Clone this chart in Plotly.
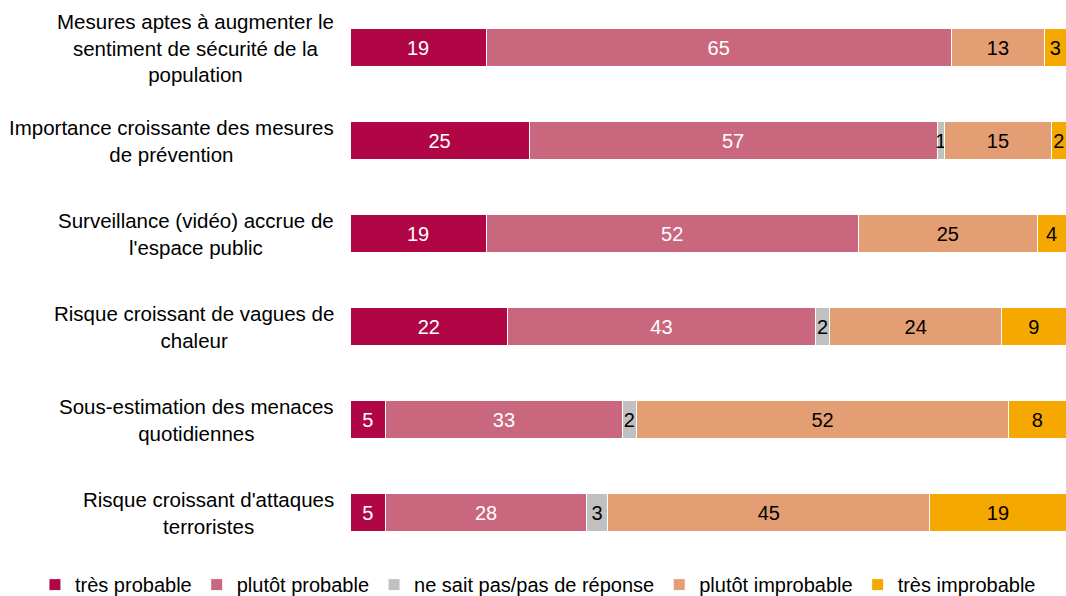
import plotly.graph_objects as go

categories = [
    "Mesures aptes à augmenter le<br>sentiment de sécurité de la<br>population",
    "Importance croissante des mesures<br>de prévention",
    "Surveillance (vidéo) accrue de<br>l'espace public",
    "Risque croissant de vagues de<br>chaleur",
    "Sous-estimation des menaces<br>quotidiennes",
    "Risque croissant d'attaques<br>terroristes",
]
series_names = ["très probable", "plutôt probable", "ne sait pas/pas de réponse",
                "plutôt improbable", "très improbable"]
tres_probable = [19, 25, 19, 22, 5, 5]
plutot_probable = [65, 57, 52, 43, 33, 28]
ne_sait_pas = [0, 1, 0, 2, 2, 3]
plutot_improbable = [13, 15, 25, 24, 52, 45]
tres_improbable = [3, 2, 4, 9, 8, 19]

values = [tres_probable, plutot_probable, ne_sait_pas, plutot_improbable, tres_improbable]
colors = ["#B00646", "#C9677E", "#C0C0C0", "#E39E74", "#F5A800"]
text_colors = ["white", "white", "black", "black", "black"]

ids = list(range(len(categories)))
FONT = "Liberation Sans, Arial, sans-serif"
FS = 20

fig = go.Figure()
for name, vals, col, tcol in zip(series_names, values, colors, text_colors):
    fig.add_trace(go.Bar(
        name=name, y=ids, x=vals, orientation="h",
        marker=dict(color=col, line=dict(color="white", width=1)),
        width=0.4,
        text=[str(v) if v else "" for v in vals],
        textposition="inside", insidetextanchor="middle", textangle=0,
        insidetextfont=dict(color=tcol, size=FS, family=FONT),
        hoverinfo="x+name",
    ))

for i, c in zip(ids, categories):
    fig.add_annotation(x=-0.019, xref="paper", y=i, yref="y", text=c,
                       showarrow=False, xanchor="right", yanchor="middle",
                       align="center", font=dict(size=20.5, family=FONT, color="black"))

fig.update_layout(
    barmode="stack",
    width=1066, height=596,
    margin=dict(l=350, r=0, t=1, b=37, autoexpand=False),
    plot_bgcolor="white", paper_bgcolor="white",
    font=dict(family=FONT, size=FS, color="black"),
    uniformtext=dict(minsize=FS, mode="show"),
    xaxis=dict(range=[0, 100], visible=False, fixedrange=True),
    yaxis=dict(range=[5.5, -0.5], visible=False, showticklabels=False),
    legend=dict(orientation="h", x=-0.44, xref="paper", xanchor="left",
                y=-0.011, yref="paper", yanchor="top",
                font=dict(size=FS, family=FONT), itemwidth=30,
                traceorder="normal", tracegroupgap=0),
    showlegend=True,
)

fig.write_html("out.html", config={"displayModeBar": False},
               post_script="document.body.style.margin='0';")
